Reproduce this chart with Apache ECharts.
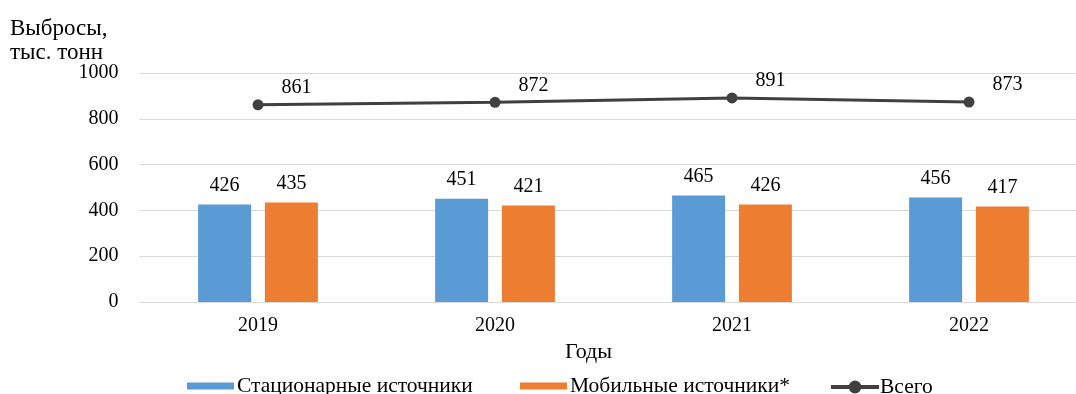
<!DOCTYPE html>
<html>
<head>
<meta charset="utf-8">
<script src="https://cdn.jsdelivr.net/npm/echarts@6/dist/echarts.min.js"></script>
<style>
  html, body { margin: 0; padding: 0; background: #fff; }
  #chart { width: 1076px; height: 394px; }
</style>
</head>
<body>
<div id="chart"></div>
<script>
// Annual emissions, thousand tonnes
const years = ['2019', '2020', '2021', '2022'];
const stationary = [426, 451, 465, 456];
const mobile = [435, 421, 426, 417];
const total = [861, 872, 891, 873];
const yTicks = { min: 0, max: 1000, interval: 200 };

const serif = '"Liberation Serif", "Times New Roman", serif';
const numFont = { fontFamily: serif, fontSize: 20, color: '#000' };

const chart = echarts.init(document.getElementById('chart'), null, { renderer: 'canvas' });

// one legend box per entry so each can be placed on its own
function legendBox(name, left, opts) {
  return Object.assign({
    left: left,
    top: 370,
    padding: 5,
    itemWidth: 47,
    itemHeight: 7,
    data: [{ name: name, icon: 'rect' }],
    textStyle: { fontFamily: serif, fontSize: 21.5, color: '#000', padding: [0, 0, 0, -2] }
  }, opts || {});
}

chart.setOption({
  animation: false,
  backgroundColor: '#ffffff',
  textStyle: { fontFamily: serif, color: '#000' },
  title: {
    text: 'Выбросы,\nтыс. тонн',
    left: 5,
    top: 12,
    textStyle: { fontFamily: serif, fontSize: 23, fontWeight: 'normal', color: '#000', lineHeight: 24 }
  },
  grid: { left: 139.5, width: 948, top: 73, height: 229, outerBoundsMode: 'none', containLabel: false },
  legend: [
    legendBox('Стационарные источники', 182),
    legendBox('Мобильные источники*', 515),
    {
      left: 824,
      top: 371,
      padding: 5,
      itemWidth: 48,
      itemHeight: 16,
      lineStyle: { width: 4 },
      data: [{ name: 'Всего' }],
      textStyle: { fontFamily: serif, fontSize: 21.5, color: '#000', padding: [0, 0, 0, -4] }
    }
  ],
  xAxis: {
    type: 'category',
    data: years,
    name: 'Годы',
    nameLocation: 'middle',
    nameGap: 37,
    nameTextStyle: { fontFamily: serif, fontSize: 22, color: '#000', padding: [0, 50, 0, 0] },
    axisLine: { lineStyle: { color: '#d9d9d9' } },
    axisTick: { show: false },
    axisLabel: Object.assign({ margin: 14 }, numFont)
  },
  yAxis: {
    type: 'value',
    min: yTicks.min,
    max: yTicks.max,
    interval: yTicks.interval,
    axisLine: { show: false },
    axisTick: { show: false },
    axisLabel: Object.assign({ margin: 21, formatter: function (v) { return String(v); } }, numFont),
    splitLine: { lineStyle: { color: '#d9d9d9', width: 1 } }
  },
  series: [
    {
      name: 'Стационарные источники',
      type: 'bar',
      data: stationary,
      barWidth: 53,
      barGap: '26%',
      itemStyle: { color: '#5b9bd5' },
      label: Object.assign({ show: true, position: 'top', distance: 9 }, numFont)
    },
    {
      name: 'Мобильные источники*',
      type: 'bar',
      data: mobile,
      barWidth: 53,
      barGap: '26%',
      itemStyle: { color: '#ed7d31' },
      label: Object.assign({ show: true, position: 'top', distance: 9 }, numFont)
    },
    {
      name: 'Всего',
      type: 'line',
      data: total,
      symbol: 'circle',
      symbolSize: 11,
      lineStyle: { color: '#404040', width: 3 },
      itemStyle: { color: '#404040' },
      label: Object.assign({ show: true, position: 'right', distance: 18, offset: [0, -17] }, numFont)
    }
  ]
});
</script>
</body>
</html>
